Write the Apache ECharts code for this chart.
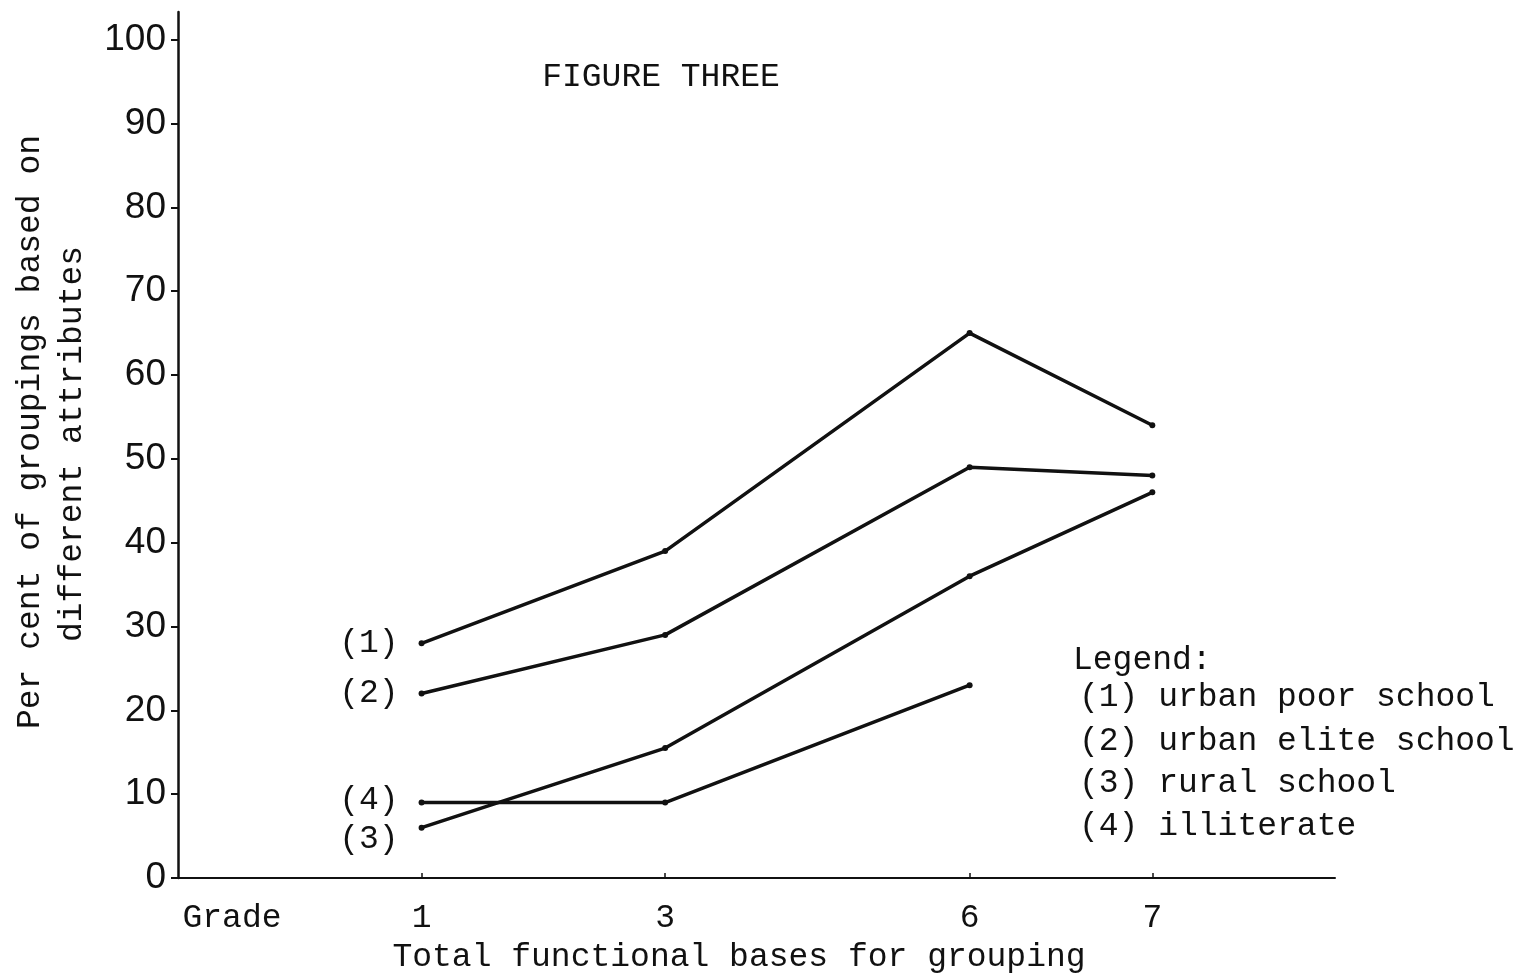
<!DOCTYPE html>
<html><head><meta charset="utf-8">
<script src="https://cdn.jsdelivr.net/npm/echarts@6/dist/echarts.min.js"></script>
<style>html,body{margin:0;padding:0;background:#fff}#c{width:1525px;height:974px}</style>
</head><body><div id="c"></div>
<script>
// ---- data ----
const grades = ['1', '3', '6', '7'];
const gradeSlots = [4, 8, 13, 16]; // axis layout slots (uneven spacing as in the original)
const seriesTags = ['(1)', '(2)', '(3)', '(4)'];
const urbanPoor = [28, 39, 65, 54];
const urbanElite = [22, 29, 49, 48];
const rural = [6, 15.5, 36, 46];
const illiterate = [9, 9, 23, null];
const yTicks = [0, 10, 20, 30, 40, 50, 60, 70, 80, 90, 100];
const titleText = 'FIGURE THREE';
const yNameLines = ['Per cent of groupings based on', 'different attributes'];
const xName = 'Total functional bases for grouping';
const xLead = 'Grade';
const legendLines = ['Legend:', '(1) urban poor school', '(2) urban elite school', '(3) rural school', '(4) illiterate'];

// ---- chart ----
const FONT = 'Liberation Mono';
const INK = '#111';
const FS = 33;
const chart = echarts.init(document.getElementById('c'));

const valueSets = [urbanPoor, urbanElite, rural, illiterate];
const tagOffsets = [[0, 0], [0, 0], [0, 12], [0, -2]];

const series = valueSets.map((vals, si) => ({
  type: 'line',
  name: seriesTags[si],
  symbol: 'circle',
  symbolSize: 6,
  itemStyle: { color: INK },
  lineStyle: { color: INK, width: 3.5 },
  animation: false,
  z: 3,
  data: vals.map((v, i) => {
    if (v === null) return null;
    const item = { value: [gradeSlots[i], v] };
    if (i === 0) {
      item.label = {
        show: true, position: 'left', distance: 20,
        formatter: seriesTags[si], offset: tagOffsets[si],
        fontFamily: FONT, fontSize: FS, color: INK
      };
    }
    return item;
  }).filter(d => d !== null)
}));

const graphics = [
  { type: 'text', x: 661, y: 77, style: { text: titleText, font: `${FS}px "${FONT}"`, fill: INK, textAlign: 'center', textVerticalAlign: 'middle' } },
  { type: 'text', x: 30, y: 432, rotation: Math.PI / 2, style: { text: yNameLines[0], font: `${FS}px "${FONT}"`, fill: INK, textAlign: 'center', textVerticalAlign: 'middle' } },
  { type: 'text', x: 72, y: 444, rotation: Math.PI / 2, style: { text: yNameLines[1], font: `${FS}px "${FONT}"`, fill: INK, textAlign: 'center', textVerticalAlign: 'middle' } },
  { type: 'text', x: 739, y: 957, style: { text: xName, font: `${FS}px "${FONT}"`, fill: INK, textAlign: 'center', textVerticalAlign: 'middle' } },
  { type: 'text', x: 232, y: 918, style: { text: xLead, font: `${FS}px "${FONT}"`, fill: INK, textAlign: 'center', textVerticalAlign: 'middle' } }
];
const legendY = [660, 697, 741, 783, 826];
legendLines.forEach((t, i) => {
  graphics.push({ type: 'text', x: i === 0 ? 1073 : 1079, y: legendY[i], style: { text: t, font: `${FS}px "${FONT}"`, fill: INK, textAlign: 'left', textVerticalAlign: 'middle' } });
});

chart.setOption({
  backgroundColor: '#fff',
  animation: false,
  grid: { left: 178, top: 12, width: 1157, height: 866, containLabel: false },
  xAxis: {
    type: 'value', min: 0, max: 19,
    splitLine: { show: false },
    axisLine: { show: true, lineStyle: { color: INK, width: 2 } },
    axisTick: { show: true, inside: true, length: 5, customValues: gradeSlots, lineStyle: { color: INK, width: 1.5 } },
    axisLabel: {
      customValues: gradeSlots, margin: 24,
      formatter: v => grades[gradeSlots.indexOf(v)] || '',
      fontFamily: FONT, fontSize: FS, color: INK
    }
  },
  yAxis: {
    type: 'value', min: 0, max: 103.3, interval: 10,
    splitLine: { show: false },
    axisLine: { show: true, lineStyle: { color: INK, width: 2.5 } },
    axisTick: { show: true, length: 7, customValues: yTicks, lineStyle: { color: INK, width: 2 } },
    axisLabel: { customValues: yTicks, margin: 12, fontFamily: 'Liberation Sans', fontSize: 37, color: INK }
  },
  series: series,
  graphic: graphics
});
</script>
</body></html>
